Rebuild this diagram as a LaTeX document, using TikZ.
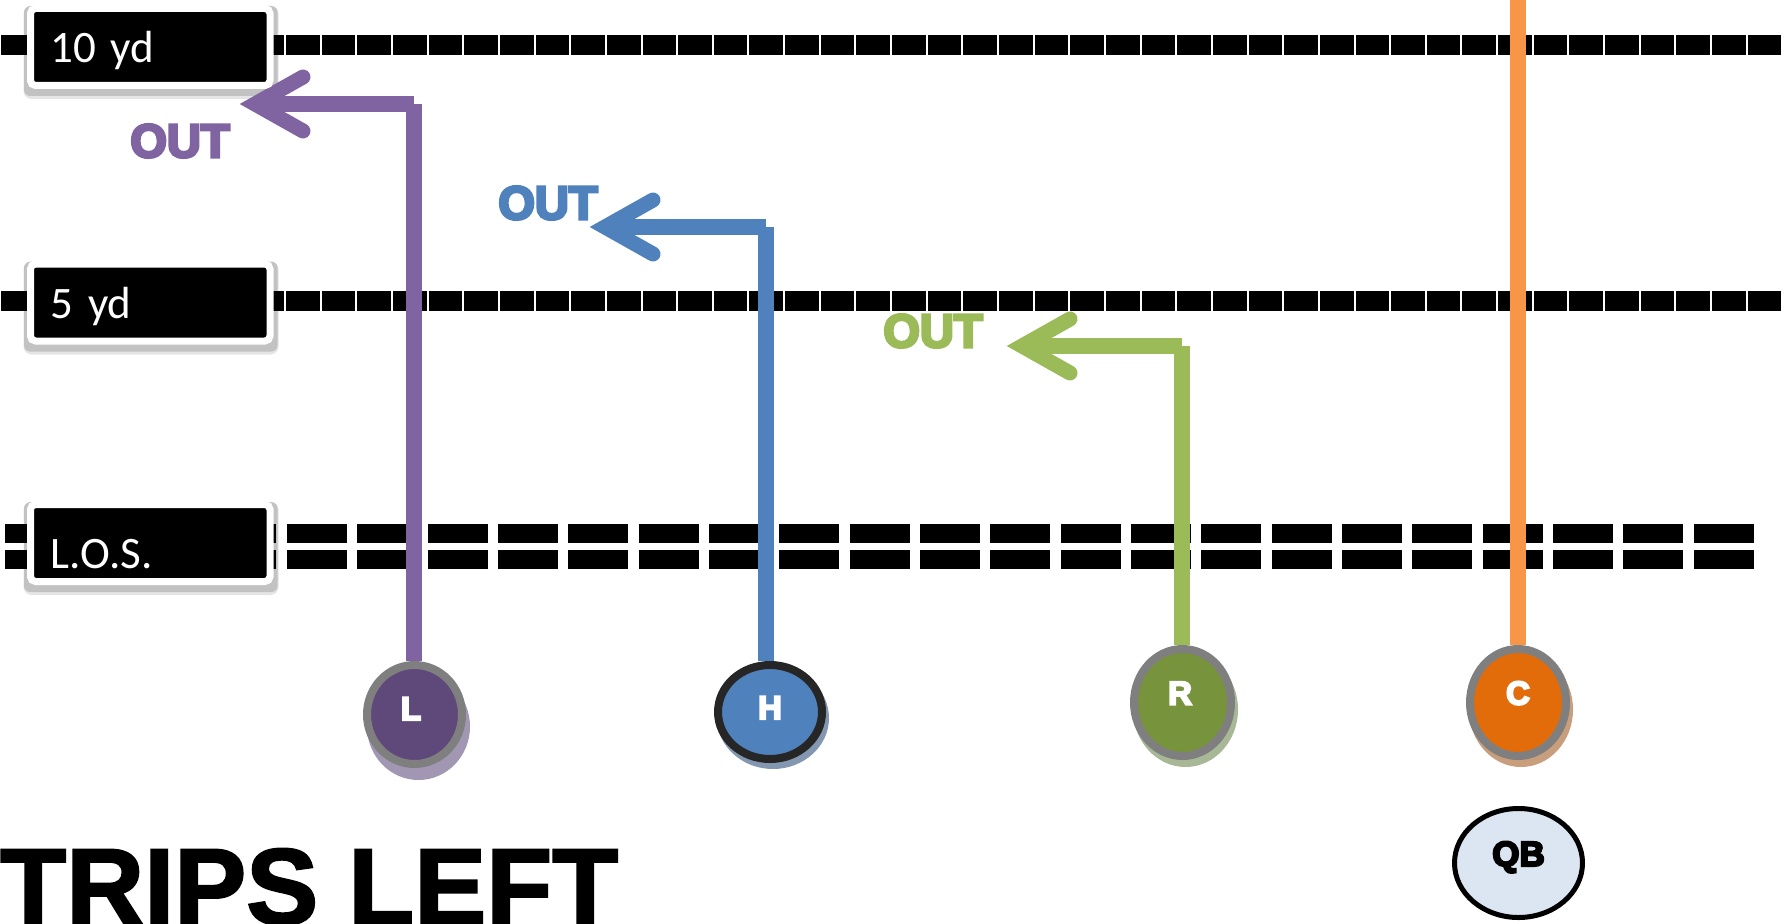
\documentclass[tikz,border=0pt]{standalone}
\usepackage{fontspec}
\setmainfont{Carlito}
\newfontfamily\heavy{Liberation Sans}[BoldFeatures={FakeBold=6}]
\newfontfamily\titlefont{Liberation Sans}[BoldFeatures={FakeBold=2}]
\usetikzlibrary{shapes.geometric}
\pgfdeclarelayer{paper}
\pgfdeclarelayer{bg}
\pgfsetlayers{paper,bg,main}
\definecolor{pline}{HTML}{8064A2}
\definecolor{bline}{HTML}{4F81BD}
\definecolor{gline}{HTML}{9BBB59}
\definecolor{oline}{HTML}{F79646}
\definecolor{Lfill}{HTML}{5F497A}
\definecolor{Hfill}{HTML}{4F81BD}
\definecolor{Rfill}{HTML}{77933C}
\definecolor{Cfill}{HTML}{E36C0A}
\definecolor{QBfill}{HTML}{DCE6F2}
\definecolor{ringgray}{HTML}{7F7F7F}
\definecolor{ringdark}{HTML}{262626}
\definecolor{Lsh}{HTML}{A197B3}
\definecolor{Hsh}{HTML}{8497B0}
\definecolor{Rsh}{HTML}{A8B896}
\definecolor{Csh}{HTML}{C89E7D}
\newcommand\plab[2]{\raisebox{#1}[0pt][0pt]{#2}}
\begin{document}
\begin{tikzpicture}[x=1pt,y=-1pt,
  yard/.style={line width=20pt, dash pattern=on 33.65pt off 2pt, black},
  losline/.style={line width=19pt, dash pattern=on 60pt off 10.35pt, black},
  tag/.style={rectangle, rounded corners=5pt, fill=black, draw=white, line width=7pt,
    minimum width=239.5pt, minimum height=77pt, inner sep=0pt, text width=200pt,
    align=left, text=white, font=\fontsize{45}{50}\selectfont, text depth=0pt, text height=31pt},
  player/.style={ellipse, inner sep=0pt, line width=8pt, draw=ringgray, text=white,
    font=\heavy\bfseries\fontsize{33}{36}\selectfont},
  vroute/.style={line width=16pt, line cap=butt},
  chev/.style={line width=15pt, line cap=round, line join=miter},
  outlab/.style={font=\heavy\bfseries\fontsize{47}{50}\selectfont, inner sep=0pt}
]
\begin{pgfonlayer}{paper}
\fill[white] (0,0) rectangle (1787,923);
\end{pgfonlayer}
\useasboundingbox (0,0) rectangle (1787,923);

% label boxes
\node[tag] (ten) at (150.25,47) {10 yd};
\node[tag] (five) at (150.25,302.5) {5 yd};
\node[tag, text height=51pt] (los) at (150.25,543) {L.O.S.};

% players
\node[player, fill=Lfill, minimum width=95pt, minimum height=99pt] (L) at (414.5,714.5) {\plab{-5.5pt}{L}\kern7pt};
\node[player, fill=Hfill, draw=ringdark, minimum width=104pt, minimum height=94pt] (H) at (770,712) {\plab{-7pt}{H}};
\node[player, fill=Rfill, minimum width=97pt, minimum height=107pt] (R) at (1182.5,702.5) {\plab{-2pt}{R}\kern5pt};
\node[player, fill=Cfill, minimum width=96pt, minimum height=107pt] (C) at (1518,702.5) {\plab{-2pt}{C}};
\node[player, fill=QBfill, draw=black, line width=5pt, text=black, font=\heavy\bfseries\fontsize{35}{38}\selectfont,
  minimum width=128pt, minimum height=109pt] (QB) at (1518.5,863) {\plab{-3pt}{QB}};

% OUT labels
\node[outlab, text=pline] (pout) at (180,141) {OUT};
\node[outlab, text=bline] (bout) at (548,203) {OUT};
\node[outlab, text=gline] (gout) at (933,331) {OUT};

% title
\node[anchor=base west, inner sep=0pt, font=\titlefont\bfseries\fontsize{108}{120}\selectfont] (title) at (0,924) {TRIPS LEFT};

% route coordinates
\coordinate (ptip) at (255,104);  \coordinate (pturn) at (414,104);
\coordinate (btip) at (605,227);  \coordinate (bturn) at (766,227);
\coordinate (gtip) at (1022,346); \coordinate (gturn) at (1182,346);
\coordinate (otop) at (1518,-5);

\begin{pgfonlayer}{bg}
  % yard lines
  \draw[yard] (0.8,45) -- (1781,45);
  \draw[yard] (0.8,301) -- (1781,301);
  \draw[losline] (5.4,533.5) -- (1755,533.5);
  \draw[losline] (5.4,559.5) -- (1755,559.5);
  % tag shadows
  \foreach \n in {ten,five,los}{
    \fill[black, opacity=0.10, rounded corners=8pt] ([shift={(-3.5,1)}]\n.north west) rectangle ([shift={(5,10)}]\n.south east);
    \fill[black, opacity=0.15, rounded corners=6pt] ([shift={(-3,1)}]\n.north west) rectangle ([shift={(4,7)}]\n.south east);
  }
  % routes
  \draw[vroute, pline] (pturn) -- (pturn |- L.north);
  \draw[vroute, pline] (pturn) -- ([shift={(5,0)}]ptip);
  \draw[chev, pline] ([shift={(48,-27)}]ptip) -- (ptip) -- ([shift={(48,27)}]ptip);
  \draw[vroute, bline] (bturn) -- (bturn |- H.north);
  \draw[vroute, bline] (bturn) -- ([shift={(5,0)}]btip);
  \draw[chev, bline] ([shift={(48,-27)}]btip) -- (btip) -- ([shift={(48,27)}]btip);
  \draw[vroute, gline] (gturn) -- (gturn |- R.north);
  \draw[vroute, gline] (gturn) -- ([shift={(5,0)}]gtip);
  \draw[chev, gline] ([shift={(48,-27)}]gtip) -- (gtip) -- ([shift={(48,27)}]gtip);
  \draw[vroute, oline] (otop) -- (C);
  % player shadows
  \fill[Lsh] ([shift={(4,12)}]L.center) ellipse [x radius=51.5pt, y radius=53.5pt];
  \fill[Hsh] ([shift={(3,6)}]H.center) ellipse [x radius=56pt, y radius=51pt];
  \fill[Rsh] ([shift={(3,7)}]R.center) ellipse [x radius=52.5pt, y radius=57.5pt];
  \fill[Csh] ([shift={(3,7)}]C.center) ellipse [x radius=52pt, y radius=57.5pt];
\end{pgfonlayer}
\end{tikzpicture}
\end{document}
